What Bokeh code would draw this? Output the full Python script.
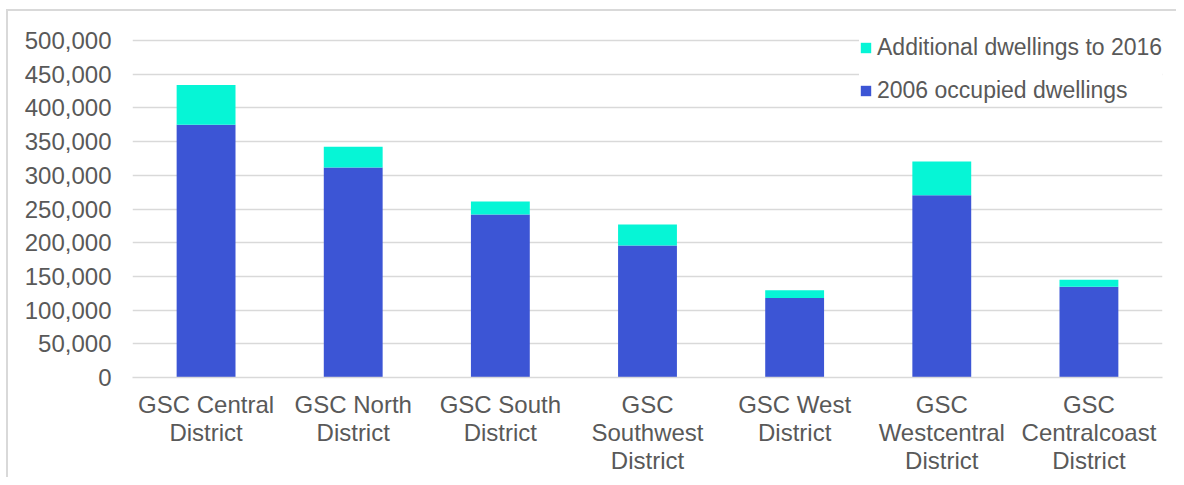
from bokeh.plotting import figure
from bokeh.models import (ColumnDataSource, Range1d, FactorRange, NumeralTickFormatter,
                          FixedTicker, Legend, LegendItem)
from bokeh.embed import file_html
from bokeh.resources import INLINE

# Occupied dwellings by district, 2006 and growth to 2016
district_labels = [
    "GSC Central\nDistrict",
    "GSC North\nDistrict",
    "GSC South\nDistrict",
    "GSC\nSouthwest\nDistrict",
    "GSC West\nDistrict",
    "GSC\nWestcentral\nDistrict",
    "GSC\nCentralcoast\nDistrict",
]
occupied_2006 = [375000, 311500, 242000, 196000, 118000, 270500, 134500]
additional_to_2016 = [59000, 31000, 19000, 31000, 11500, 50000, 10500]
y_ticks = [0, 50000, 100000, 150000, 200000, 250000, 300000, 350000, 400000, 450000, 500000]

series = ["occupied_2006", "additional_to_2016"]
series_names = ["2006 occupied dwellings", "Additional dwellings to 2016"]
colors = ["#3c55d5", "#06f5d6"]

FONT = "Liberation Sans"
TEXT_COLOR = "#595959"
GRID_COLOR = "#d9d9d9"

source = ColumnDataSource(dict(
    district=district_labels,
    occupied_2006=occupied_2006,
    additional_to_2016=additional_to_2016,
))

# frame reaches a little above the top tick so the legend has room
Y_MAX = 500000
FRAME_H = 361
y_end = Y_MAX * FRAME_H / 337

p = figure(
    x_range=FactorRange(factors=district_labels, range_padding=0),
    y_range=Range1d(0, y_end),
    frame_width=1030, frame_height=FRAME_H,
    min_border_left=124, min_border_right=14, min_border_top=5, min_border_bottom=92,
    output_backend="svg", toolbar_location=None,
    margin=(9, 0, 0, 6),
)
p.styles = {"border-left": f"2px solid {GRID_COLOR}", "border-top": f"2px solid {GRID_COLOR}"}

renderers = p.vbar_stack(series, x="district", width=0.4, color=colors,
                         line_color=None, source=source)

p.outline_line_color = None
p.background_fill_color = "white"
p.border_fill_color = "white"

# y axis
p.yaxis.ticker = FixedTicker(ticks=y_ticks)
p.yaxis.formatter = NumeralTickFormatter(format="0,0")
p.yaxis.axis_line_color = None
p.yaxis.major_tick_line_color = None
p.yaxis.minor_tick_line_color = None
p.yaxis.major_label_standoff = 15
p.yaxis.major_label_text_font = FONT
p.yaxis.major_label_text_font_size = "24px"
p.yaxis.major_label_text_color = TEXT_COLOR

# x axis
p.xaxis.axis_line_color = GRID_COLOR
p.xaxis.axis_line_width = 1.5
p.xaxis.major_tick_line_color = None
p.xaxis.minor_tick_line_color = None
p.xaxis.major_label_standoff = 7
p.xaxis.major_label_text_font = FONT
p.xaxis.major_label_text_font_size = "24px"
p.xaxis.major_label_text_color = TEXT_COLOR
p.xaxis.major_label_text_line_height = 1.05

p.xgrid.grid_line_color = None
p.ygrid.grid_line_color = GRID_COLOR
p.ygrid.grid_line_width = 1.5
p.ygrid.ticker = FixedTicker(ticks=y_ticks)

legend = Legend(
    items=[LegendItem(label=series_names[1], renderers=[renderers[1]]),
           LegendItem(label=series_names[0], renderers=[renderers[0]])],
    location=(727, 273),
    orientation="vertical",
    glyph_width=13, glyph_height=13,
    label_standoff=5,
    spacing=16,
    padding=10,
    margin=0,
    label_text_font=FONT,
    label_text_font_size="23px",
    label_text_color=TEXT_COLOR,
    background_fill_color="white",
    background_fill_alpha=1.0,
    border_line_color=None,
)
p.add_layout(legend)

open("out.html", "w").write(file_html(p, INLINE))
